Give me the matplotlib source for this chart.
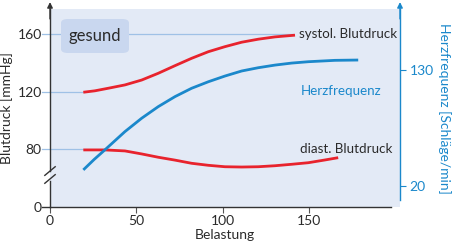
import matplotlib
matplotlib.use("Agg")
import matplotlib.pyplot as plt
from matplotlib.patches import FancyBboxPatch

plt.rcParams["font.family"] = ["Lato", "DejaVu Sans"]

# Werte
syst_x = [19.3, 26, 33.8, 43.4, 53.1, 62.7, 72.4, 82.0, 91.7, 101.3, 111.0, 120.6, 130.3, 141.9]
syst_y = [119.8, 120.8, 122.6, 124.9, 128.3, 133.0, 138.3, 143.4, 148.0, 151.5, 154.6, 156.7, 158.3, 159.5]

diast_x = [19.3, 31.8, 43.4, 53.1, 62.7, 72.4, 82.0, 91.7, 101.3, 111.0, 120.6, 130.3, 139.9, 149.6, 159.2, 166.9]
diast_y = [79.7, 79.7, 79.0, 76.9, 74.6, 72.6, 70.4, 69.0, 68.0, 67.8, 68.0, 68.7, 69.7, 70.8, 72.7, 74.3]

herz_x = [19.3, 25.5, 31.8, 43.4, 53.1, 62.7, 72.4, 82.0, 91.7, 101.3, 111.0, 120.6, 130.3, 139.9, 149.6, 165.0, 178.5]
herz_y = [35.2, 45, 54.2, 71.5, 84.2, 95.2, 104.7, 112.6, 118.8, 124.2, 129.0, 132.1, 134.6, 136.5, 137.8, 139.1, 139.4]

links_ticks = [80, 120, 160]
rechts_ticks = [20, 130]
x_ticks = [0, 50, 100, 150]

RED = "#e8232d"
BLUE = "#1b88cb"
BG = "#e3eaf6"
GRID = "#9fc1e6"
DARK = "#2a2a2a"
FS = 10

fig = plt.figure(figsize=(4.54, 2.49), dpi=100)
ax = fig.add_axes([50 / 454, 1 - 207 / 249, 350 / 454, 198 / 249])
ax2 = ax.twinx()

# linke Achse: "0" sitzt an Position 40 (Achsenbruch)
ax.set_xlim(0, 202.7)
ax.set_ylim(40, 177.7)
ax2.set_ylim(0, 187.8)
ax.set_facecolor(BG)
for s in ax.spines.values():
    s.set_visible(False)
for s in ax2.spines.values():
    s.set_visible(False)

# Hilfslinien
ax.plot([-4.5, 141], [160, 160], color=GRID, lw=0.9, clip_on=False, zorder=1)
ax.plot([-4.5, 19], [120, 120], color=GRID, lw=0.9, clip_on=False, zorder=1)
ax.plot([-4.5, 19], [80, 80], color=GRID, lw=0.9, clip_on=False, zorder=1)

# gesund-Kasten
box = FancyBboxPatch((11 / 350, 1 - 53 / 198 + 9 / 198), 68 / 350, 34 / 198,
                     boxstyle="round,pad=0,rounding_size=0.02",
                     transform=ax.transAxes, facecolor="#c9d7ef", edgecolor="none", zorder=2)
ax.add_patch(box)
ax.text(45 / 350, 1 - 36 / 198 + 9 / 198, "gesund", transform=ax.transAxes, ha="center", va="center",
        fontsize=12, color=DARK, zorder=3)

kw = dict(lw=2, zorder=4, solid_capstyle="butt", solid_joinstyle="round")
ax.plot(syst_x, syst_y, color=RED, **kw)
ax.plot(diast_x, diast_y, color=RED, **kw)
ax2.plot(herz_x, herz_y, color=BLUE, **kw)

ax.text(144, 160, "systol. Blutdruck", fontsize=9.6, va="center", color=DARK)
ax.text(145, 120.5, "Herzfrequenz", fontsize=9.6, va="center", color=BLUE)
ax.text(145, 80, "diast. Blutdruck", fontsize=9.6, va="center", color=DARK)

# linke Achse mit Bruch und Pfeil
ax.plot([0, 0], [40, 58], color="#333333", lw=1, clip_on=False)
ax.plot([0, 0], [65, 177.7], color="#333333", lw=1, clip_on=False)
ax.annotate("", xy=(0, 1.035), xytext=(0, 0.95), xycoords="axes fraction",
            arrowprops=dict(arrowstyle="-|>", color="#333333", lw=1,
                            mutation_scale=8, shrinkA=0, shrinkB=0))
for yb in (59.5, 65):
    ax.plot([-3, 3], [yb - 3, yb + 3], color="#333333", lw=1, clip_on=False)

# x-Achse
ax.plot([0, 197.5], [40, 40], color="#333333", lw=1, clip_on=False)
ax.set_xticks(x_ticks)
ax.tick_params(axis="x", length=4, color="#555555", labelsize=FS, labelcolor=DARK, pad=2)
ax.set_yticks([40] + links_ticks)
ax.set_yticklabels(["0"] + [str(v) for v in links_ticks])
ax.tick_params(axis="y", length=0, labelsize=FS, labelcolor=DARK, pad=6)
ax.plot([-4.5, 0], [40, 40], color="#333333", lw=1, clip_on=False)
ax.set_xlabel("Belastung", fontsize=FS, color=DARK, labelpad=1)
ax.set_ylabel("Blutdruck [mmHg]", fontsize=FS, color=DARK, labelpad=3)

# rechte Achse
ax2.plot([202.7, 202.7], [6.7, 187.8], color=BLUE, lw=1, clip_on=False)
ax2.annotate("", xy=(1, 1.035), xytext=(1, 0.95), xycoords="axes fraction",
             arrowprops=dict(arrowstyle="-|>", color=BLUE, lw=1,
                             mutation_scale=8, shrinkA=0, shrinkB=0))
ax2.set_yticks(rechts_ticks)
ax2.tick_params(axis="y", length=4, color=BLUE, labelcolor=BLUE, labelsize=FS, pad=3)
ax2.set_ylabel("Herzfrequenz [Schläge/min]", fontsize=FS, color=BLUE,
               rotation=-90, labelpad=12)

fig.savefig("out.png", dpi=100)
